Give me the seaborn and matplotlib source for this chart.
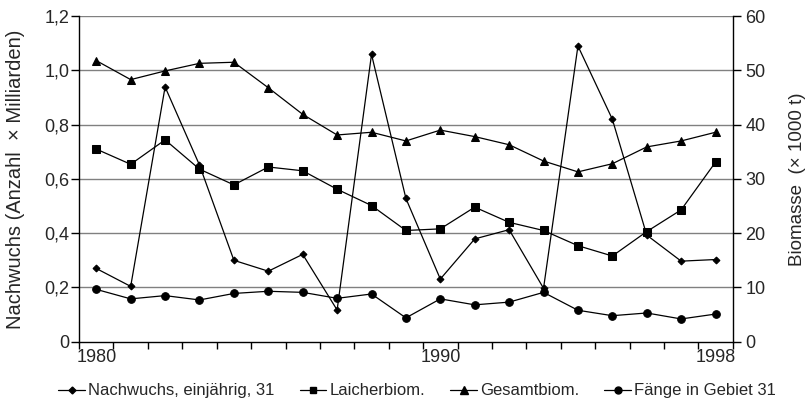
import matplotlib
matplotlib.use("Agg")
import matplotlib.pyplot as plt
import seaborn as sns
import pandas as pd
import numpy as np
from matplotlib.ticker import FixedLocator
from matplotlib.lines import Line2D

years = list(range(1980, 1999))
nachwuchs = [0.270, 0.204, 0.939, 0.651, 0.300, 0.260, 0.322, 0.117, 1.059, 0.528,
             0.231, 0.379, 0.413, 0.197, 1.090, 0.820, 0.393, 0.297, 0.303]
laicher = [35.5, 32.7, 37.2, 31.8, 28.9, 32.2, 31.5, 28.1, 25.1, 20.5,
           20.8, 24.8, 22.0, 20.5, 17.7, 15.8, 20.3, 24.3, 33.1]
gesamt = [51.8, 48.3, 49.9, 51.3, 51.5, 46.8, 41.9, 38.1, 38.6, 37.0,
          39.0, 37.8, 36.3, 33.3, 31.3, 32.8, 35.9, 37.0, 38.6]
faenge = [9.65, 7.9, 8.5, 7.7, 8.9, 9.3, 9.1, 8.0, 8.8, 4.4,
          7.9, 6.8, 7.3, 9.1, 5.8, 4.8, 5.3, 4.2, 5.1]
labels = ["Nachwuchs, einjährig, 31", "Laicherbiom.", "Gesamtbiom.", "Fänge in Gebiet 31"]
left_ticks = [0, 0.2, 0.4, 0.6, 0.8, 1.0, 1.2]
left_ticklabels = ["0", "0,2", "0,4", "0,6", "0,8", "1,0", "1,2"]
right_ticks = [0, 10, 20, 30, 40, 50, 60]
xlabel_years = [1980, 1990, 1998]

sns.set_theme(style="white")
plt.rcParams['font.family'] = ['Liberation Sans', 'DejaVu Sans']

df = pd.DataFrame({"idx": np.arange(len(years)), "year": years,
                   "nach": nachwuchs, "laich": laicher, "ges": gesamt, "fang": faenge})

fig = plt.figure(figsize=(8.07, 4.03), dpi=100)
ax = fig.add_axes([0.098, 0.152, 0.810, 0.808])
ax2 = ax.twinx()

lw = 0.9
kw = dict(color="black", linewidth=lw, markeredgecolor="black", markerfacecolor="black", sort=False)
sns.lineplot(data=df, x="idx", y="nach", ax=ax, marker="D", markersize=3.5, zorder=5, **kw)
sns.lineplot(data=df, x="idx", y="laich", ax=ax2, marker="s", markersize=5.5, **kw)
sns.lineplot(data=df, x="idx", y="ges", ax=ax2, marker="^", markersize=6, **kw)
sns.lineplot(data=df, x="idx", y="fang", ax=ax2, marker="o", markersize=5.5, **kw)

ax.set_zorder(ax2.get_zorder() + 1)
ax.patch.set_visible(False)

ax.set_xlim(-0.5, len(years) - 0.5)
ax.set_ylim(0, 1.2)
ax2.set_ylim(0, 60)

for y in left_ticks[1:]:
    ax2.axhline(y * 50, color="#808080", linewidth=1.0, zorder=0)

fs_tick = 13
ax.set_yticks(left_ticks)
ax.set_yticklabels(left_ticklabels, fontsize=fs_tick)
ax2.set_yticks(right_ticks)
ax2.set_yticklabels([str(t) for t in right_ticks], fontsize=fs_tick)

xpos = [years.index(y) for y in xlabel_years]
ax.set_xticks(xpos)
ax.set_xticklabels([str(y) for y in xlabel_years], fontsize=fs_tick)
ax.xaxis.set_minor_locator(FixedLocator(np.arange(-0.5, len(years), 1.0)))
ax.tick_params(axis="x", which="major", length=0, pad=5)
ax.tick_params(axis="x", which="minor", length=5, width=1, color="black", direction="out", bottom=True)
ax.tick_params(axis="y", length=6, width=1, color="black", direction="out", left=True, pad=1)
ax2.tick_params(axis="y", length=6, width=1, color="black", direction="out", right=True, pad=3)

for a in (ax, ax2):
    a.set_xlabel("")
    for s in a.spines.values():
        s.set_visible(False)
ax.spines["left"].set_visible(True)
ax.spines["bottom"].set_visible(True)
ax2.spines["right"].set_visible(True)
for s in (ax.spines["left"], ax.spines["bottom"], ax2.spines["right"]):
    s.set_color("black")
    s.set_linewidth(1)

ax.set_ylabel("Nachwuchs (Anzahl  × Milliarden)", fontsize=14.5)
ax.yaxis.set_label_coords(-0.083, 0.5)
ax2.set_ylabel("Biomasse  (× 1000 t)", fontsize=13.5)
ax2.yaxis.set_label_position("right")
ax2.yaxis.set_label_coords(1.086, 0.5)

handles = [
    Line2D([], [], color="black", lw=lw, marker="D", markersize=3.5),
    Line2D([], [], color="black", lw=lw, marker="s", markersize=5),
    Line2D([], [], color="black", lw=lw, marker="^", markersize=5.5),
    Line2D([], [], color="black", lw=lw, marker="o", markersize=5),
]
fig.legend(handles, labels, loc="center", bbox_to_anchor=(0.517, 0.03), ncol=4, frameon=False,
           handlelength=1.6, handletextpad=0.2, columnspacing=1.5,
           prop={"family": ["Liberation Sans", "DejaVu Sans"], "size": 12})
if ax.get_legend():
    ax.get_legend().remove()
if ax2.get_legend():
    ax2.get_legend().remove()

fig.savefig("out.png", dpi=100)
